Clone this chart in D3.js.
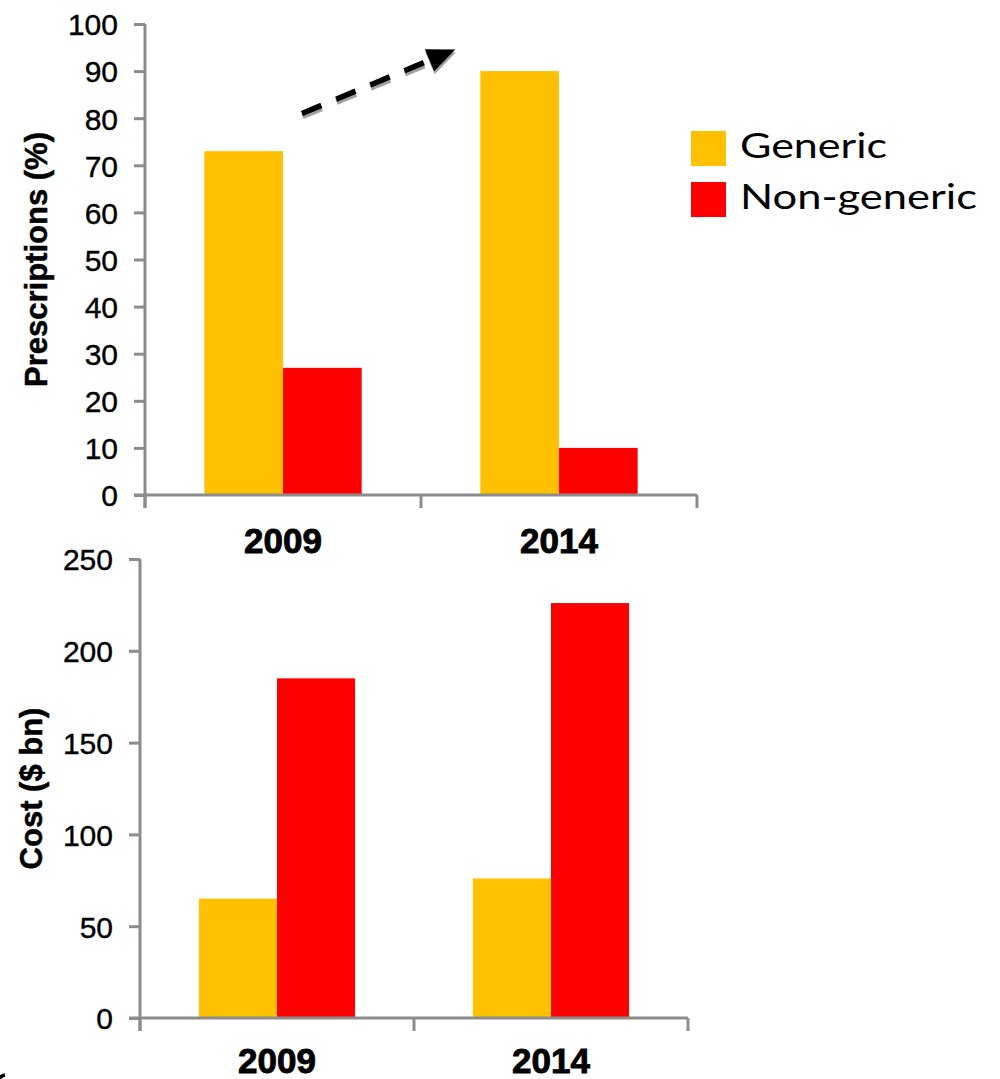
<!DOCTYPE html>
<html>
<head>
<meta charset="utf-8">
<script src="https://cdn.jsdelivr.net/npm/d3@7"></script>
<style>
  html, body { margin: 0; padding: 0; background: #fff; }
  svg { display: block; }
  .tick-label { font-family: "Liberation Sans", Arial, sans-serif; font-size: 30px; fill: #000; stroke: #000; stroke-width: 0.4px; }
  .year-label { font-family: "Liberation Sans", Arial, sans-serif; font-size: 35px; font-weight: bold; fill: #000; stroke: #000; stroke-width: 0.9px; }
  .axis-title { font-family: "Liberation Sans", Arial, sans-serif; font-size: 31px; font-weight: bold; fill: #000; stroke: #000; stroke-width: 0.5px; }
  .legend-label { font-family: Lato, "Open Sans", sans-serif; font-size: 34px; fill: #000; }
</style>
</head>
<body>
<script>
// Years shown on both panels
const years = ["2009", "2014"];
const series = ["Generic", "Non-generic"];
const seriesColors = ["#FFC000", "#FF0000"];

// Share of prescriptions (%)
const prescriptionsGeneric = [73, 90];
const prescriptionsNonGeneric = [27, 10];

// Spending ($ bn)
const costGeneric = [65, 76];
const costNonGeneric = [185, 226];

const prescriptionTicks = [0, 10, 20, 30, 40, 50, 60, 70, 80, 90, 100];
const costTicks = [0, 50, 100, 150, 200, 250];

const W = 1000, H = 1079;
const svg = d3.select("body").append("svg").attr("width", W).attr("height", H);

const axisColor = "#8c8c8c";

function drawPanel(cfg) {
  const g = svg.append("g");
  const x = d3.scaleBand().domain(years).range([cfg.left, cfg.right])
    .paddingInner(0.43).paddingOuter(0.215);
  const xs = d3.scaleBand().domain(series).range([0, x.bandwidth()]);
  const y = d3.scaleLinear().domain([0, cfg.max]).range([cfg.bottom, cfg.top]);

  const rows = years.map((yr, i) => ({ year: yr, values: [cfg.a[i], cfg.b[i]] }));

  // bars
  const grp = g.selectAll("g.yr").data(rows).join("g")
    .attr("transform", d => `translate(${x(d.year)},0)`);
  grp.selectAll("rect").data(d => d.values.map((v, k) => ({ v, k }))).join("rect")
    .attr("x", d => xs(series[d.k]))
    .attr("width", xs.bandwidth())
    .attr("y", d => y(d.v))
    .attr("height", d => y(0) - y(d.v))
    .attr("fill", d => seriesColors[d.k]);

  // y axis
  const yAxis = d3.axisLeft(y).tickValues(cfg.ticks).tickSize(11).tickPadding(16);
  const ya = g.append("g").attr("transform", `translate(${cfg.left},0)`).call(yAxis);
  ya.select(".domain").remove();
  ya.selectAll(".tick line").attr("stroke", axisColor).attr("stroke-width", 3);
  ya.attr("font-size", null).attr("font-family", null);
  ya.selectAll(".tick text").attr("class", "tick-label").attr("dy", "0.36em");
  g.append("line").attr("x1", cfg.left).attr("x2", cfg.left)
    .attr("y1", cfg.top).attr("y2", cfg.bottom + 13)
    .attr("stroke", axisColor).attr("stroke-width", 3);

  // x axis baseline and category dividers
  g.append("line").attr("x1", cfg.left - 11).attr("x2", cfg.right)
    .attr("y1", y(0)).attr("y2", y(0))
    .attr("stroke", axisColor).attr("stroke-width", 3);
  const dividers = [cfg.left, ...years.slice(1).map(yr => x(yr) - x.step() * x.paddingInner() / 2), cfg.right];
  g.selectAll("line.div").data(dividers).join("line")
    .attr("class", "div")
    .attr("x1", d => d).attr("x2", d => d)
    .attr("y1", y(0)).attr("y2", y(0) + 13)
    .attr("stroke", axisColor).attr("stroke-width", 3);

  // category labels
  g.selectAll("text.year").data(years).join("text")
    .attr("class", "year-label")
    .attr("x", d => x(d) + x.bandwidth() / 2)
    .attr("y", y(0) + cfg.yearOffset)
    .attr("text-anchor", "middle")
    .text(d => d);

  // axis title
  g.append("text").attr("class", "axis-title")
    .attr("transform", `translate(${cfg.titleX},${(cfg.top + cfg.bottom) / 2}) rotate(-90)`)
    .attr("text-anchor", "middle")
    .text(cfg.title);

  return { x, xs, y };
}

const prescPanel = drawPanel({
  left: 145, right: 697, top: 24, bottom: 495, max: 100,
  ticks: prescriptionTicks, a: prescriptionsGeneric, b: prescriptionsNonGeneric,
  title: "Prescriptions (%)", titleX: 47, yearOffset: 58
});

drawPanel({
  left: 140, right: 688, top: 559, bottom: 1018, max: 250,
  ticks: costTicks, a: costGeneric, b: costNonGeneric,
  title: "Cost ($ bn)", titleX: 42, yearOffset: 55
});

// dashed trend arrow between the generic shares
const x0 = prescPanel.x("2009") + prescPanel.xs("Non-generic") + 19;
const y0 = prescPanel.y(prescriptionsGeneric[0] + 8);
const x1 = prescPanel.x("2014") - 25;
const y1 = prescPanel.y(prescriptionsGeneric[1] + 4.6);
const ang = Math.atan2(y1 - y0, x1 - x0);
const headLen = 28;
const lx = x1 - headLen * Math.cos(ang), ly = y1 - headLen * Math.sin(ang);

svg.append("defs").append("filter").attr("id", "soft")
  .append("feGaussianBlur").attr("stdDeviation", 0.6);

function arrow(dx, dy, color, filt) {
  const a = svg.append("g").attr("transform", `translate(${dx},${dy})`);
  if (filt) a.attr("filter", "url(#soft)");
  a.append("line").attr("x1", x0).attr("y1", y0).attr("x2", lx).attr("y2", ly)
    .attr("stroke", color).attr("stroke-width", 5.5).attr("stroke-dasharray", "21,16");
  const hw = 12;
  const px = -Math.sin(ang), py = Math.cos(ang);
  a.append("path")
    .attr("d", `M${x1},${y1} L${lx + hw * px},${ly + hw * py} L${lx - hw * px},${ly - hw * py} Z`)
    .attr("fill", color);
}
arrow(0.5, 3, "#a0a0a0", true);
arrow(0, 0, "#000", false);

// legend
const legend = svg.append("g").attr("transform", "translate(691,131)");
const legendWidths = [147, 237];
series.forEach((s, i) => {
  legend.append("rect").attr("x", 0).attr("y", i * 51).attr("width", 35).attr("height", 35)
    .attr("fill", seriesColors[i]);
  legend.append("text").attr("class", "legend-label")
    .attr("x", 49).attr("y", i * 51 + 27)
    .attr("textLength", legendWidths[i]).attr("lengthAdjust", "spacingAndGlyphs")
    .text(s);
});

// sliver of a curved stroke at the lower-left corner
svg.append("path")
  .attr("d", "M-3,1083 Q-1,1076 5,1075")
  .attr("fill", "none").attr("stroke", "#000").attr("stroke-width", 3.5);
</script>
</body>
</html>
